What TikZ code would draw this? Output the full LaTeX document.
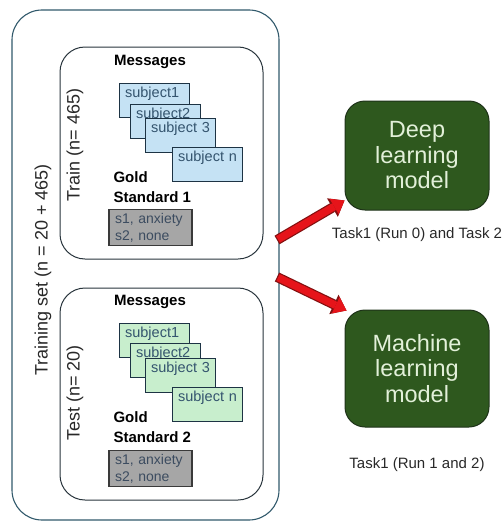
\documentclass[tikz,border=0pt]{standalone}
\usepackage{fontspec}
\setmainfont{Liberation Sans}
\usetikzlibrary{arrows.meta,calc}

\definecolor{setline}{RGB}{49,89,107}
\definecolor{partline}{RGB}{40,52,60}
\definecolor{labeltext}{RGB}{40,40,40}
\definecolor{cardline}{RGB}{29,51,68}
\definecolor{cardtext}{RGB}{52,84,110}
\definecolor{trainfill}{RGB}{197,226,244}
\definecolor{testfill}{RGB}{200,238,205}
\definecolor{goldfill}{RGB}{166,166,166}
\definecolor{goldline}{RGB}{58,58,58}
\definecolor{goldtext}{RGB}{60,76,96}
\definecolor{modelfill}{RGB}{46,88,30}
\definecolor{modelline}{RGB}{30,50,25}
\definecolor{modeltext}{RGB}{226,240,217}
\definecolor{tasktext}{RGB}{40,40,40}
\definecolor{arrowred}{RGB}{230,20,26}
\definecolor{arrowedge}{RGB}{130,16,16}

\begin{document}
\begin{tikzpicture}[x=1pt,y=-1pt,
  setbox/.style={draw=setline,line width=1.1pt,rounded corners=30pt,minimum width=267pt,minimum height=510pt},
  partbox/.style={draw=partline,line width=1pt,rounded corners=25pt,minimum width=203pt,minimum height=212pt},
  sidelabel/.style={rotate=90,font=\fontsize{18}{20}\selectfont,text=labeltext},
  heading/.style={font=\fontsize{15}{20}\selectfont\bfseries},
  card/.style={draw=cardline,line width=1.2pt,anchor=north west,minimum width=70pt,minimum height=34pt,
    text width=59pt,inner xsep=5.5pt,inner ysep=3pt,text height=11pt,text depth=17pt,align=left,
    font=\fontsize{14.5}{16}\selectfont,text=cardtext},
  trainc/.style={card,fill=trainfill},
  testc/.style={card,fill=testfill},
  goldbox/.style={draw=goldline,line width=1.2pt,fill=goldfill,minimum width=83pt,minimum height=35pt,
    text width=71pt,inner xsep=6pt,align=left,font=\fontsize{14}{17}\selectfont,text=goldtext},
  model/.style={fill=modelfill,draw=modelline,line width=1pt,rounded corners=20pt,minimum width=144pt,
    align=center,font=\fontsize{23.5}{25.5}\selectfont,text=modeltext},
  task/.style={font=\fontsize{15}{16}\selectfont,text=tasktext},
  flow/.style={draw=arrowred,line width=7.5pt,shorten <=1.2pt,-{Triangle[length=12pt,width=18pt,line width=0pt]},
    preaction={draw=arrowedge,line width=9.9pt,shorten <=0pt,-{Triangle[length=14pt,width=21.5pt,line width=0pt]}}}]
\useasboundingbox (0,0) rectangle (502,522);

\node[setbox] (trainset) at (145.5,265) {};
\node[sidelabel] (setlabel) at (43,270) {Training set (n = 20 + 465)};

% train split
\node[partbox] (train) at (161.5,153) {};
\node[sidelabel] (trainlabel) at (75,145) {Train (n= 465)};
\node[heading] (trainmsg) at (150,62) {Messages};
\node[trainc] (tr1) at (119,83) {subject1};
\node[trainc] (tr2) at (130,104) {subject2};
\node[trainc] (tr3) at (145,118) {subject 3};
\node[trainc] (trn) at (172,147) {subject n};
\node[heading,anchor=west,align=left] (traingold) at (110,187) {Gold\\Standard 1};
\node[goldbox] (trainlab) at (150.5,227.5) {s1, anxiety\\s2, none};

% test split
\node[partbox] (test) at (161.5,394) {};
\node[sidelabel] (testlabel) at (75,393) {Test (n= 20)};
\node[heading] (testmsg) at (150,302) {Messages};
\node[testc] (te1) at (119,323) {subject1};
\node[testc] (te2) at (130,343) {subject2};
\node[testc] (te3) at (145,358) {subject 3};
\node[testc] (ten) at (172,387) {subject n};
\node[heading,anchor=west,align=left] (testgold) at (110,427) {Gold\\Standard 2};
\node[goldbox] (testlab) at (150.5,468.5) {s1, anxiety\\s2, none};

% models
\node[model,minimum height=109pt] (deep) at (417,155.5) {Deep\\learning\\model};
\node[task] (deeptask) at (417,235) {Task1 (Run 0) and Task 2};
\node[model,minimum height=117pt] (ml) at (417,368.5) {Machine\\learning\\model};
\node[task] (mltask) at (417,465) {Task1 (Run 1 and 2)};

\coordinate (out1) at (277,240);
\coordinate (out2) at (277,277);
\draw[flow] (out1) -- ($(deep.south west)+(0,-10)$);
\draw[flow] (out2) -- ($(ml.north west)+(2,1)$);
\end{tikzpicture}
\end{document}
